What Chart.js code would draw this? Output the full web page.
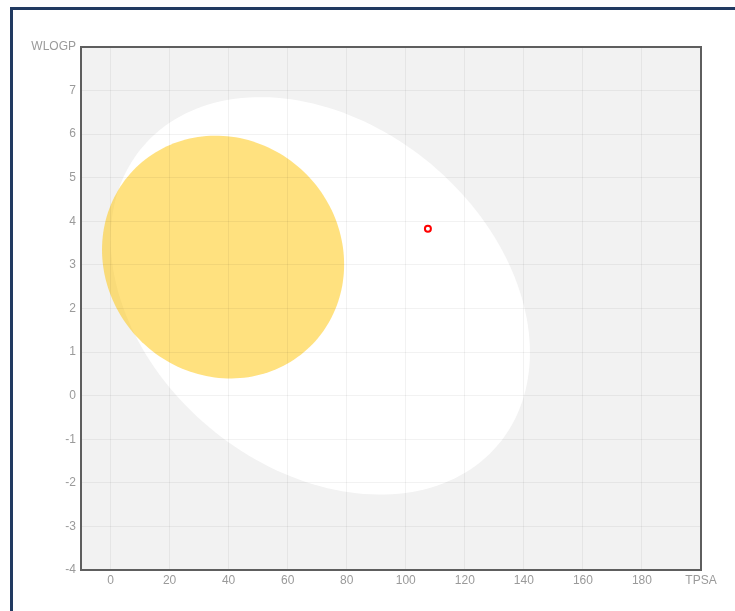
<!DOCTYPE html>
<html>
<head>
<meta charset="utf-8">
<script src="https://cdn.jsdelivr.net/npm/chart.js@4"></script>
<style>
  body { margin: 0; background: #fff; overflow: hidden; }
  .frame {
    position: absolute; left: 10px; top: 7px; width: 800px; height: 700px;
    border-left: 3px solid #213a61; border-top: 3px solid #213a61;
  }
  .wrap { position: absolute; left: 0; top: 0; width: 735px; height: 611px; }
</style>
</head>
<body>
<div class="frame"></div>
<div class="wrap"><canvas id="egg"></canvas></div>
<script>
// axes
const tpsaTicks = [0, 20, 40, 60, 80, 100, 120, 140, 160, 180, 200];
const wlogpTicks = [-4, -3, -2, -1, 0, 1, 2, 3, 4, 5, 6, 7, 8];

// egg white (HIA) : center, rightmost point offset, vertical half-chord
const whiteCenter = [71.05, 2.29];
const whiteRight = [71.0, -1.3];
const whiteUp = 4.37;

// yolk (BBB)
const yolkCenter = [38.12, 3.18];
const yolkRight = [41.0, -0.17];
const yolkUp = 2.78;

// molecule
const moleculeTPSA = [107.5];
const moleculeWLOGP = [3.83];

// ellipse through the scales
function drawEllipse(ctx, x, y, c, r, up, color) {
  ctx.beginPath();
  for (let i = 0; i <= 180; i++) {
    const t = i / 180 * Math.PI * 2;
    const px = x.getPixelForValue(c[0] + r[0] * Math.cos(t));
    const py = y.getPixelForValue(c[1] + r[1] * Math.cos(t) + up * Math.sin(t));
    if (i === 0) ctx.moveTo(px, py); else ctx.lineTo(px, py);
  }
  ctx.closePath();
  ctx.fillStyle = color;
  ctx.fill();
}

const eggPlugin = {
  id: 'egg',
  beforeDraw(chart) {
    const { ctx, chartArea: a, scales: { x, y } } = chart;
    ctx.save();
    ctx.fillStyle = '#f2f2f2';
    ctx.fillRect(a.left, a.top, a.width, a.height);
    ctx.beginPath();
    ctx.rect(a.left, a.top, a.width, a.height);
    ctx.clip();
    drawEllipse(ctx, x, y, whiteCenter, whiteRight, whiteUp, '#ffffff');
    drawEllipse(ctx, x, y, yolkCenter, yolkRight, yolkUp, 'rgba(255, 195, 0, 0.5)');
    ctx.restore();
  },
  afterDraw(chart) {
    const { ctx, chartArea: a } = chart;
    ctx.save();
    ctx.strokeStyle = '#5e5e5e';
    ctx.lineWidth = 2;
    ctx.strokeRect(a.left, a.top, a.width, a.height);
    ctx.restore();
  }
};

const tickFont = { family: '"Liberation Sans", Arial, sans-serif', size: 12 };

new Chart(document.getElementById('egg'), {
  type: 'scatter',
  data: {
    datasets: [{
      data: moleculeTPSA.map((v, i) => ({ x: v, y: moleculeWLOGP[i] })),
      borderColor: '#ff0000',
      backgroundColor: '#ffffff',
      borderWidth: 2,
      pointRadius: 3
    }]
  },
  options: {
    responsive: true,
    maintainAspectRatio: false,
    animation: false,
    layout: { padding: { left: 0, top: 47, right: 34, bottom: 0 } },
    plugins: { legend: { display: false }, tooltip: { enabled: false } },
    scales: {
      x: {
        type: 'linear',
        min: -10,
        max: 200,
        afterBuildTicks: s => { s.ticks = tpsaTicks.map(v => ({ value: v })); },
        afterFit: s => { s.height = 41; },
        grid: { color: 'rgba(0,0,0,0.05)', drawTicks: false },
        border: { display: false },
        ticks: {
          color: '#9a9a9a', font: tickFont, padding: 3, maxRotation: 0,
          callback: v => v === 200 ? 'TPSA' : v
        }
      },
      y: {
        type: 'linear',
        min: -4,
        max: 8,
        afterBuildTicks: s => { s.ticks = wlogpTicks.map(v => ({ value: v })); },
        afterFit: s => { s.width = 81; },
        grid: { color: 'rgba(0,0,0,0.05)', drawTicks: false },
        border: { display: false },
        ticks: {
          color: '#9a9a9a', font: tickFont, padding: 5,
          callback: v => v === 8 ? 'WLOGP' : v
        }
      }
    }
  },
  plugins: [eggPlugin]
});
</script>
</body>
</html>
